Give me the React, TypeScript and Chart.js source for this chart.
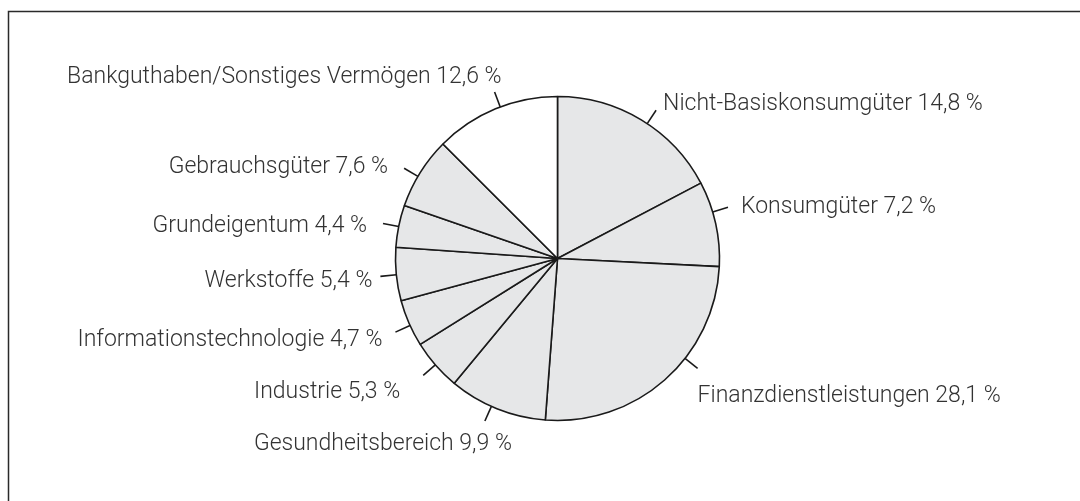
import React, { useEffect, useRef } from "react";
import { Chart, registerables } from "chart.js";

Chart.register(...registerables);

// Sector names and the printed percentages (label texts)
const sectors = [
  "Nicht-Basiskonsumgüter",
  "Konsumgüter",
  "Finanzdienstleistungen",
  "Gesundheitsbereich",
  "Industrie",
  "Informationstechnologie",
  "Werkstoffe",
  "Grundeigentum",
  "Gebrauchsgüter",
  "Bankguthaben/Sonstiges Vermögen",
];
const printedShares = ["14,8", "7,2", "28,1", "9,9", "5,3", "4,7", "5,4", "4,4", "7,6", "12,6"];
// Slice sizes as drawn in the picture (percent of the circle)
const sliceShares = [17.3, 8.5, 25.4, 9.8, 5.1, 4.7, 5.3, 4.2, 7.2, 12.5];

// Layout of the leader ticks and label texts (not data)
const tickFraction = [0.54, 0.36, 0.385, 0.56, 0.51, 0.45, 0.49, 0.49, 0.44, 0.54];
const labelAlign: ("left" | "right")[] = ["left", "left", "left", "right", "right", "right", "right", "right", "right", "right"];
const labelDx = [7, 13, 0, 27, -23, -13, -8, -16, -16, 7];
const labelDy = [-6, 0, 28, 23, 17, 8, 5, 3, -1, -15];

const FILL = "#e6e7e8";
const LINE = "#1a1a1a";
const TEXT = "#333333";
const FONT = "300 23px Roboto";
const TICK_LEN = 16;

const labelPlugin = {
  id: "pieLabels",
  beforeDraw(chart: any) {
    const ctx = chart.ctx;
    ctx.save();
    ctx.strokeStyle = "#2a2a2a";
    ctx.lineWidth = 1.5;
    ctx.beginPath();
    ctx.moveTo(8.5, chart.height);
    ctx.lineTo(8.5, 11.5);
    ctx.lineTo(chart.width, 11.5);
    ctx.stroke();
    ctx.restore();
  },
  afterDatasetsDraw(chart: any) {
    const ctx = chart.ctx;
    const meta = chart.getDatasetMeta(0);
    ctx.save();
    meta.data.forEach((arc: any, i: number) => {
      const { x, y, startAngle, endAngle, outerRadius } = arc.getProps(
        ["x", "y", "startAngle", "endAngle", "outerRadius"],
        true
      );
      const a = startAngle + (endAngle - startAngle) * tickFraction[i];
      const x0 = x + Math.cos(a) * outerRadius;
      const y0 = y + Math.sin(a) * outerRadius;
      const x1 = x + Math.cos(a) * (outerRadius + TICK_LEN);
      const y1 = y + Math.sin(a) * (outerRadius + TICK_LEN);
      ctx.strokeStyle = LINE;
      ctx.lineWidth = 1.6;
      ctx.beginPath();
      ctx.moveTo(x0, y0);
      ctx.lineTo(x1, y1);
      ctx.stroke();
      ctx.fillStyle = TEXT;
      ctx.font = FONT;
      ctx.textAlign = labelAlign[i];
      ctx.textBaseline = "middle";
      ctx.fillText(`${sectors[i]} ${printedShares[i]} %`, x1 + labelDx[i], y1 + labelDy[i]);
    });
    ctx.restore();
  },
};

export default function App() {
  const ref = useRef<HTMLCanvasElement | null>(null);
  useEffect(() => {
    if (!ref.current) return;
    const colors = sectors.map((_, i) => (i === sectors.length - 1 ? "#ffffff" : FILL));
    const chart = new Chart(ref.current, {
      type: "pie",
      data: {
        labels: sectors,
        datasets: [
          {
            data: sliceShares,
            backgroundColor: colors,
            borderColor: LINE,
            borderWidth: 1.6,
            borderAlign: "center",
          },
        ],
      },
      options: {
        responsive: false,
        animation: false,
        radius: 162,
        layout: { padding: { left: 395.5, right: 1080 - 719.5, top: 96.5, bottom: 501 - 420.5 } },
        plugins: { legend: { display: false }, tooltip: { enabled: false } },
      } as any,
      plugins: [labelPlugin],
    });
    return () => chart.destroy();
  }, []);
  return (
    <div style={{ position: "absolute", left: 0, top: 0, width: 1080, height: 501, background: "#fff" }}>
      <canvas ref={ref} width={1080} height={501} style={{ width: 1080, height: 501, display: "block" }} />
    </div>
  );
}
